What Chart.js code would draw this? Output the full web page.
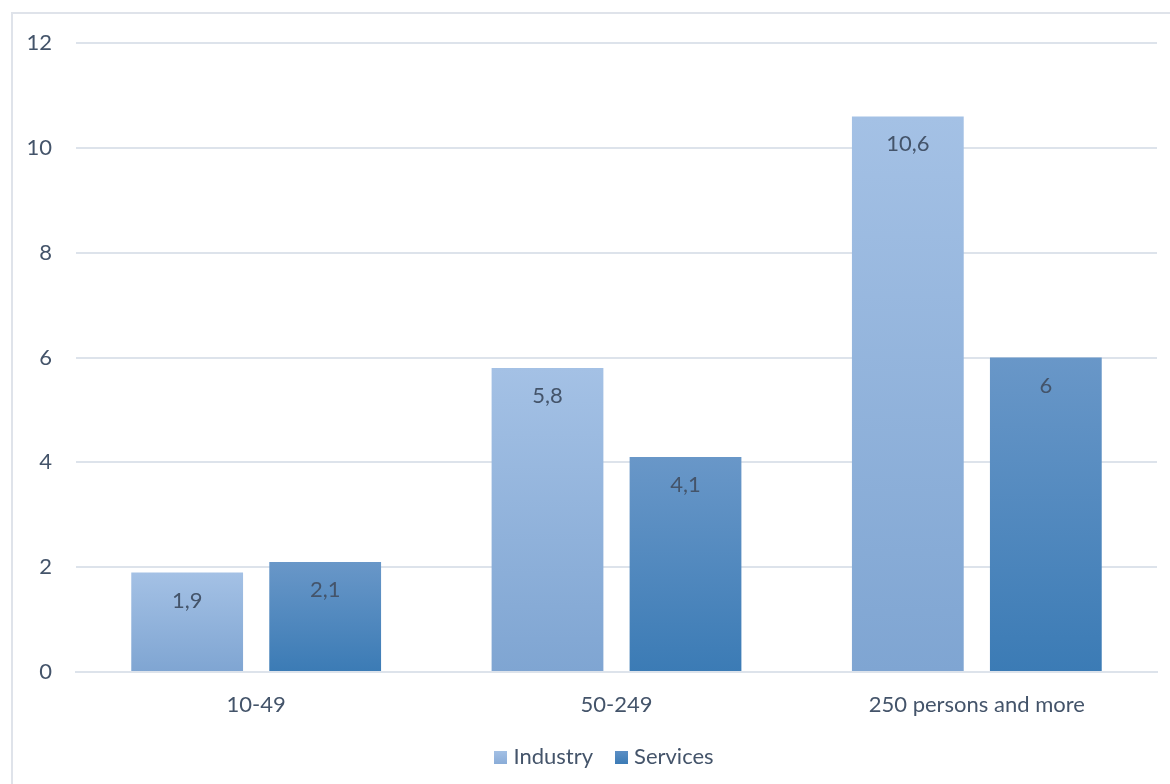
<!DOCTYPE html>
<html>
<head>
<meta charset="utf-8">
<script src="https://cdn.jsdelivr.net/npm/chart.js@4.4.1/dist/chart.umd.min.js"></script>
<style>
  html, body { margin: 0; padding: 0; background: #ffffff; }
  #wrap { width: 1170px; height: 784px; position: relative; }
</style>
</head>
<body>
<div id="wrap"><canvas id="chart" width="1170" height="784"></canvas></div>
<script>
// Enterprise size classes and the two sector series
const categories = ['10-49', '50-249', '250 persons and more'];
const industry = [1.9, 5.8, 10.6];
const services = [2.1, 4.1, 6];
const yTicks = [0, 2, 4, 6, 8, 10, 12];

const TEXT = '#44546a';
const GRID = '#dde3eb';
const FONT = 'Lato, "Open Sans", sans-serif';
const FSIZE = 22;

// Vertical gradient per bar, from its top down to the baseline
function barGradient(top, bottom) {
  return function (ctx) {
    const chart = ctx.chart;
    const ys = chart.scales.y;
    if (!ys || ctx.type !== 'data') return bottom;
    const yTop = ys.getPixelForValue(ctx.raw);
    const yBase = ys.getPixelForValue(0);
    if (!isFinite(yTop) || !isFinite(yBase) || yTop === yBase) return bottom;
    const g = chart.ctx.createLinearGradient(0, yTop, 0, yBase);
    g.addColorStop(0, top);
    g.addColorStop(1, bottom);
    return g;
  };
}

// Outer frame around the whole chart
const framePlugin = {
  id: 'frame',
  beforeDraw(chart) {
    const c = chart.ctx;
    c.save();
    c.strokeStyle = '#dfe3ea';
    c.lineWidth = 2;
    c.strokeRect(12, 13, chart.width + 10, chart.height + 10);
    c.restore();
  }
};

// Value labels inside each bar, just under its top
const valueLabels = {
  id: 'valueLabels',
  afterDatasetsDraw(chart) {
    const c = chart.ctx;
    c.save();
    c.font = FSIZE + 'px ' + FONT;
    c.fillStyle = TEXT;
    c.textAlign = 'center';
    c.textBaseline = 'middle';
    chart.data.datasets.forEach((ds, i) => {
      chart.getDatasetMeta(i).data.forEach((bar, j) => {
        const txt = String(ds.data[j]).replace('.', ',');
        c.fillText(txt, bar.x, bar.y + 28);
      });
    });
    c.restore();
  }
};

// Compact legend under the category labels: small square, tight gap, label
const compactLegend = {
  id: 'compactLegend',
  afterDraw(chart) {
    const c = chart.ctx;
    const box = 13, gapText = 6, gapItem = 22, cy = 757, center = 604;
    c.save();
    c.font = FSIZE + 'px ' + FONT;
    c.textBaseline = 'middle';
    c.textAlign = 'left';
    const items = chart.data.datasets.map(ds => ({
      text: ds.label, top: ds.legendTop, bottom: ds.legendBottom,
      w: c.measureText(ds.label).width
    }));
    let total = 0;
    items.forEach((it, i) => { total += box + gapText + it.w + (i ? gapItem : 0); });
    let x = center - total / 2;
    items.forEach((it, i) => {
      if (i) x += gapItem;
      const g = c.createLinearGradient(0, cy - box / 2, 0, cy + box / 2);
      g.addColorStop(0, it.top);
      g.addColorStop(1, it.bottom);
      c.fillStyle = g;
      c.fillRect(Math.round(x), Math.round(cy - box / 2), box, box);
      x += box + gapText;
      c.fillStyle = TEXT;
      c.fillText(it.text, x, cy);
      x += it.w;
    });
    c.restore();
  }
};

new Chart(document.getElementById('chart'), {
  type: 'bar',
  data: {
    labels: categories,
    datasets: [
      {
        label: 'Industry',
        data: industry,
        backgroundColor: barGradient('#a4c1e5', '#7fa5d2'),
        legendTop: '#a4c1e5',
        legendBottom: '#8badd8',
        categoryPercentage: 0.766,
        barPercentage: 0.81
      },
      {
        label: 'Services',
        data: services,
        backgroundColor: barGradient('#6997c8', '#3b7bb5'),
        legendTop: '#5d8fc5',
        legendBottom: '#3d7cb6',
        categoryPercentage: 0.766,
        barPercentage: 0.81
      }
    ]
  },
  options: {
    responsive: false,
    animation: false,
    devicePixelRatio: 1,
    layout: { padding: { top: 43, right: 13, left: 0, bottom: 56 } },
    plugins: {
      tooltip: { enabled: false },
      legend: { display: false }
    },
    scales: {
      x: {
        grid: { display: false, drawTicks: false },
        border: { display: true, color: GRID, width: 2 },
        ticks: { color: TEXT, font: { family: FONT, size: FSIZE }, padding: 20 },
        afterFit(scale) { scale.height = 56; }
      },
      y: {
        min: 0,
        max: 12,
        afterBuildTicks(scale) { scale.ticks = yTicks.map(v => ({ value: v })); },
        grid: { color: GRID, lineWidth: 2, drawTicks: false },
        border: { display: false },
        ticks: { color: TEXT, font: { family: FONT, size: FSIZE }, padding: 24 },
        afterFit(scale) { scale.width = 76; }
      }
    }
  },
  plugins: [framePlugin, valueLabels, compactLegend]
});
</script>
</body>
</html>
